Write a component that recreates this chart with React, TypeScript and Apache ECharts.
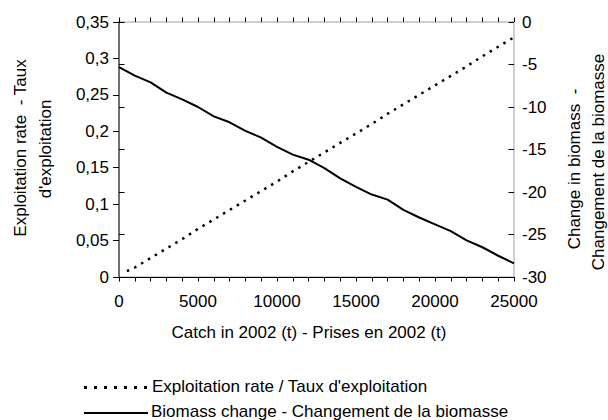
import React, { useEffect, useRef } from "react";
import * as echarts from "echarts";

const rateCatch = [500, 1000, 2000, 3000, 4000, 5000, 6000, 7000, 8000, 9000, 10000, 11000, 12000, 13000, 14000, 15000, 16000, 17000, 18000, 19000, 20000, 21000, 22000, 23000, 24000, 25000];
const exploitationRate = [0.008, 0.013, 0.026, 0.039, 0.052, 0.066, 0.079, 0.092, 0.105, 0.118, 0.131, 0.145, 0.158, 0.171, 0.184, 0.197, 0.21, 0.224, 0.237, 0.25, 0.263, 0.276, 0.289, 0.303, 0.316, 0.329];

const bioCatch = [0, 1000, 2000, 3000, 4000, 5000, 6000, 7000, 8000, 9000, 10000, 11000, 12000, 13000, 14000, 15000, 16000, 17000, 18000, 19000, 20000, 21000, 22000, 23000, 24000, 25000];
const biomassChange = [-5.3, -6.3, -7.1, -8.3, -9.1, -10.0, -11.1, -11.8, -12.8, -13.6, -14.7, -15.6, -16.2, -17.2, -18.4, -19.4, -20.3, -20.9, -22.1, -23.0, -23.8, -24.6, -25.7, -26.5, -27.5, -28.4];

const rateName = "Exploitation rate / Taux d'exploitation";
const bioName = "Biomass change - Changement de la biomasse";
const xTitle = "Catch in 2002 (t) - Prises en 2002 (t)";
const leftTitle = ["Exploitation rate  - Taux", "d'exploitation"];
const rightTitle = ["Change in biomass  -", "Changement de la biomasse"];

const FONT = "'Liberation Sans', Arial, sans-serif";
const FS = 17;

export default function App() {
  const ref = useRef<HTMLDivElement>(null);
  useEffect(() => {
    document.body.style.margin = "0";
    const chart = echarts.init(ref.current!, null, { renderer: "svg" });
    const xBase = {
      type: "value",
      min: 0,
      max: 25000,
      interval: 1000,
      gridIndex: 0,
      position: "bottom",
      splitLine: { show: false },
    };
    const txt = (text: string, x: number, y: number, rot = 0, align = "center") => ({
      type: "text",
      x,
      y,
      rotation: rot,
      style: { text, fontSize: FS, fill: "#000", fontFamily: FONT, align, verticalAlign: "middle" },
    });
    const opt: any = {
      animation: false,
      textStyle: { fontFamily: FONT },
      grid: {
        left: 119,
        right: 94,
        top: 22,
        bottom: 143,
        show: true,
        borderColor: "#a0a0a0",
        borderWidth: 1,
      },
      xAxis: [
        {
          ...xBase,
          axisLine: { lineStyle: { color: "#000", width: 1 } },
          axisTick: { show: true, length: 4.5, inside: false, lineStyle: { color: "#000" } },
          axisLabel: {
            margin: 16,
            fontSize: FS,
            color: "#000",
            fontFamily: FONT,
            formatter: (v: number) => (v % 5000 === 0 ? String(v) : ""),
          },
        },
        {
          ...xBase,
          axisLine: { show: false },
          axisTick: { show: true, length: 4.5, inside: true, lineStyle: { color: "#000" } },
          axisLabel: { show: false },
        },
      ],
      yAxis: [
        {
          type: "value",
          position: "left",
          min: 0,
          max: 0.35,
          interval: 0.05,
          splitLine: { show: false },
          axisLine: { show: true, lineStyle: { color: "#000", width: 1 } },
          axisTick: { show: true, length: 6, lineStyle: { color: "#000" } },
          axisLabel: {
            margin: 10,
            fontSize: FS,
            color: "#000",
            fontFamily: FONT,
            formatter: (v: number) => String(+v.toFixed(2)).replace(".", ","),
          },
        },
        {
          type: "value",
          position: "right",
          min: -30,
          max: 0,
          interval: 5,
          splitLine: { show: false },
          axisLine: { show: true, lineStyle: { color: "#707070", width: 2 } },
          axisTick: { show: true, length: 5.5, lineStyle: { color: "#000" } },
          axisLabel: { margin: 8, fontSize: FS, color: "#000", fontFamily: FONT },
        },
        {
          type: "value",
          position: "right",
          min: -30,
          max: 0,
          interval: 5,
          splitLine: { show: false },
          axisLine: { show: false },
          axisTick: { show: true, inside: true, length: 5.5, lineStyle: { color: "#000" } },
          axisLabel: { show: false },
        },
      ],
      series: [
        {
          name: rateName,
          type: "line",
          xAxisIndex: 0,
          yAxisIndex: 0,
          symbol: "none",
          data: rateCatch.map((c, i) => [c, exploitationRate[i]]),
          lineStyle: { color: "#000", width: 2.5, type: [2.5, 5.5], cap: "butt" },
          itemStyle: { color: "#000" },
        },
        {
          name: bioName,
          type: "line",
          xAxisIndex: 0,
          yAxisIndex: 1,
          symbol: "none",
          data: bioCatch.map((c, i) => [c, biomassChange[i]]),
          lineStyle: { color: "#000", width: 2 },
          itemStyle: { color: "#000" },
        },
      ],
      graphic: [
        txt(xTitle, 309, 332),
        txt(leftTitle[0], 20, 148, Math.PI / 2),
        txt(leftTitle[1], 45, 149, Math.PI / 2),
        txt(rightTitle[0], 574, 169, Math.PI / 2),
        txt(rightTitle[1], 598, 162, Math.PI / 2),
        {
          type: "line",
          shape: { x1: 84, y1: 387.5, x2: 147, y2: 387.5 },
          style: { stroke: "#000", lineWidth: 3, lineDash: [3, 7], lineCap: "butt" },
        },
        txt(rateName, 152, 386, 0, "left"),
        {
          type: "line",
          shape: { x1: 84, y1: 413, x2: 148, y2: 413 },
          style: { stroke: "#000", lineWidth: 2 },
        },
        txt(bioName, 151, 411, 0, "left"),
      ],
    };
    chart.setOption(opt);
    return () => chart.dispose();
  }, []);
  return <div ref={ref} style={{ width: 608, height: 420 }} />;
}
